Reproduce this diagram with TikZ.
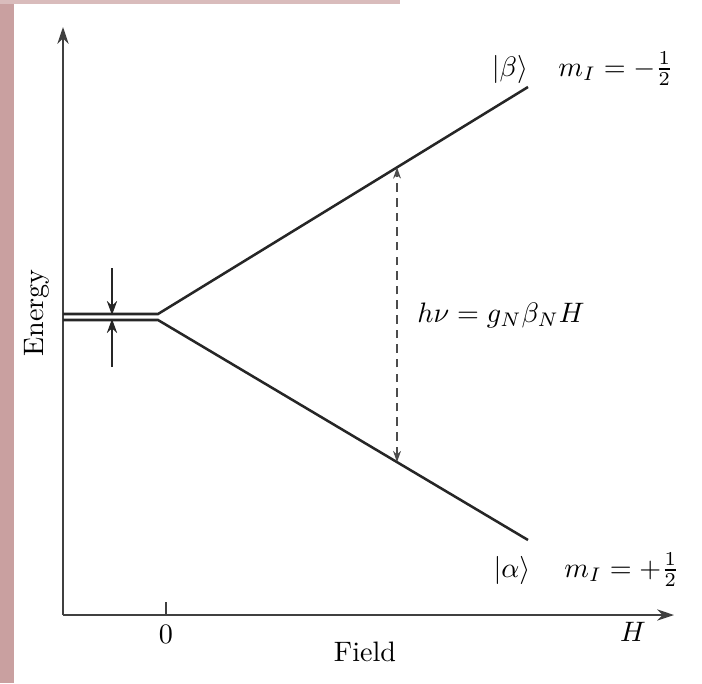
\documentclass[tikz,border=0pt]{standalone}
\usepackage{amsmath}
\usepackage{tikz}
\usetikzlibrary{arrows.meta, positioning}
\definecolor{scanpink}{RGB}{201,160,160}

\begin{document}
\begin{tikzpicture}[
    x=0.0125cm, y=-0.0125cm,
    axis/.style = {draw=black!75, line width=0.55pt},
    level/.style = {draw=black!85, line width=0.9pt},
    gapmark/.style = {draw=black!85, line width=0.9pt, -{Stealth[length=5pt, width=3.6pt]}},
    trans/.style = {draw=black!70, dashed, dash pattern=on 3pt off 2.2pt, line width=0.5pt, {Stealth[length=4pt, width=2.8pt]}-{Stealth[length=4pt, width=2.8pt]}},
    lbl/.style = {font=\normalsize, inner sep=1pt}
]

% Page edge of the scan
\useasboundingbox (0,0) rectangle (702,683);
\fill[scanpink] (0,0) rectangle (14,683);
\fill[scanpink!70] (0,0) rectangle (400,4);

% Axes
\coordinate (origin) at (63,615);
\coordinate (ytop) at (63,27);
\coordinate (xend) at (674,615);
\coordinate (zero) at (166,615);
\draw [axis, -{Stealth[length=6pt, width=4pt]}] (origin) -- (ytop);
\draw [axis, -{Stealth[length=6pt, width=4pt]}] (origin) -- (xend);
\draw [axis] (zero) -- ++(0,-13);

\node (zerolbl) [lbl] at (166,634) {0};
\node (field) [lbl] at (365,652) {Field};
\node (hlbl) [lbl] at (633,632) {$H$};
\node (energy) [lbl, rotate=90] at (37,313) {Energy};

% Nuclear spin levels (degenerate at zero field)
\coordinate (upL) at (63,314);
\coordinate (upS) at (158,314);
\coordinate (upR) at (528,87);
\coordinate (loL) at (63,320);
\coordinate (loS) at (158,320);
\coordinate (loR) at (528,540);
\draw [level] (upL) -- (upS) -- (upR);
\draw [level] (loL) -- (loS) -- (loR);

% Width markers on the zero-field level
\coordinate (gapT) at (112,268);
\coordinate (gapB) at (112,367);
\draw [gapmark] (gapT) -- ([yshift=-0.4pt]gapT |- upS);
\draw [gapmark] (gapB) -- ([yshift=0.4pt]gapB |- loS);

% Transition
\path (upS) -- (upR) coordinate[pos=0.646] (betaT);
\path (loS) -- (loR) coordinate[pos=0.646] (alphaT);
\draw [trans] (alphaT) -- (betaT);
\node (resonance) [lbl] at (501,315) {$h\nu = g_N\beta_N H$};

% State labels
\node (beta) [lbl] at (510,69) {$|\beta\rangle$};
\node (mbeta) [lbl, anchor=west] at (555,69) {$m_I = -\frac{1}{2}$};
\node (alpha) [lbl] at (512,570) {$|\alpha\rangle$};
\node (malpha) [lbl, anchor=west] at (561,570) {$m_I = +\frac{1}{2}$};

\end{tikzpicture}
\end{document}
